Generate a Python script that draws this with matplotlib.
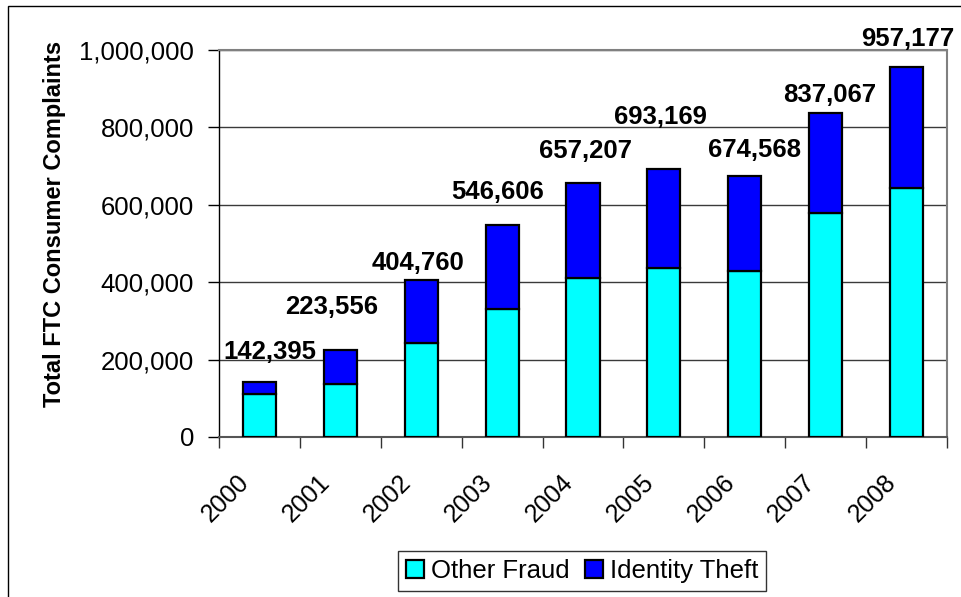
import matplotlib
matplotlib.use("Agg")
import matplotlib.pyplot as plt
import matplotlib.transforms as mtransforms
from matplotlib.patches import Rectangle
from matplotlib.ticker import FuncFormatter, FixedLocator
import numpy as np

plt.rcParams['font.family'] = ['Liberation Sans', 'DejaVu Sans']

# ---- data ----
years = ["2000", "2001", "2002", "2003", "2004", "2005", "2006", "2007", "2008"]
other_fraud = [111278, 137306, 242783, 331429, 410298, 437482, 428533, 578640, 643195]
identity_theft = [31117, 86250, 161977, 215177, 246909, 255687, 246035, 258427, 313982]
totals = [142395, 223556, 404760, 546606, 657207, 693169, 674568, 837067, 957177]
series_names = ["Other Fraud", "Identity Theft"]
y_ticks = [0, 200000, 400000, 600000, 800000, 1000000]

# ---- label placement (pixels, styling only) ----
label_dx = [10, -9, -3, -5, 3, -3, 10, 4, 1]
label_dy = [30, 43, 17, 33, 32, 52, 26, 18, 28]

W, H, DPI = 961, 597, 100
fig = plt.figure(figsize=(W / DPI, H / DPI), dpi=DPI)
fig.patch.set_facecolor("white")

L, R, T, B = 219, 947, 50, 437
ax = fig.add_axes([L / W, 1 - B / H, (R - L) / W, (B - T) / H])

x = np.arange(len(years))
bw = 0.41
ax.bar(x, other_fraud, bw, color="#00FFFF", edgecolor="black", linewidth=1.6,
       label=series_names[0], zorder=3)
ax.bar(x, identity_theft, bw, bottom=other_fraud, color="#0000FF",
       edgecolor="black", linewidth=1.6, label=series_names[1], zorder=3)

ax.set_xlim(-0.5, len(years) - 0.5)
ax.set_ylim(0, 1000000)

# y axis
ax.yaxis.set_major_locator(FixedLocator(y_ticks))
ax.yaxis.set_major_formatter(FuncFormatter(lambda v, p: f"{int(v):,}"))
ax.tick_params(axis="y", direction="out", length=8, width=1, pad=10,
               labelsize=18.5, colors="black")
ax.grid(axis="y", color="#3a3a3a", linewidth=1, zorder=0)
ax.set_axisbelow(True)

# x axis: category labels + ticks between categories
ax.set_xticks(x)
ax.set_xticklabels(years, rotation=45, ha="right", va="center",
                   rotation_mode="anchor", fontsize=18)
ax.tick_params(axis="x", which="major", length=0, pad=30)
ax.set_xticks(np.arange(len(years) + 1) - 0.5, minor=True)
ax.tick_params(axis="x", which="minor", direction="out", length=8, width=1,
               color="#333333")
offset = mtransforms.ScaledTranslation(-14 / DPI, 0, fig.dpi_scale_trans)
for lab in ax.get_xticklabels():
    lab.set_transform(lab.get_transform() + offset)

for side in ["top", "right"]:
    ax.spines[side].set_color("#808080")
    ax.spines[side].set_linewidth(1.5)
ax.spines["left"].set_color("black")
ax.spines["left"].set_linewidth(1)
ax.spines["bottom"].set_color("#555555")
ax.spines["bottom"].set_linewidth(1.5)

# total labels
for i, tot in enumerate(totals):
    ax.annotate(f"{tot:,}", xy=(x[i], tot), xytext=(label_dx[i], label_dy[i]),
                textcoords="offset pixels", ha="center", va="center",
                fontsize=18.5, fontweight="bold", annotation_clip=False, zorder=5)

# y label
fig.text(55 / W, 1 - 224 / H, "Total FTC Consumer Complaints", rotation=90,
         ha="center", va="center", fontsize=17, fontweight="bold")

# legend
leg = fig.legend(loc="center", bbox_to_anchor=(582 / W, 1 - 571 / H), ncol=2,
                 fontsize=18.5, frameon=True, fancybox=False, handlelength=0.72,
                 handleheight=0.68, handletextpad=0.25, columnspacing=0.6,
                 borderpad=0.3, borderaxespad=0)
leg.get_frame().set_edgecolor("black")
leg.get_frame().set_linewidth(1)

# outer chart border
fig.patches.append(Rectangle((8 / W, -0.1), 1.2, 1 - 6 / H + 0.1,
                             transform=fig.transFigure, fill=False,
                             edgecolor="black", linewidth=1))

fig.savefig("out.png", dpi=DPI)
